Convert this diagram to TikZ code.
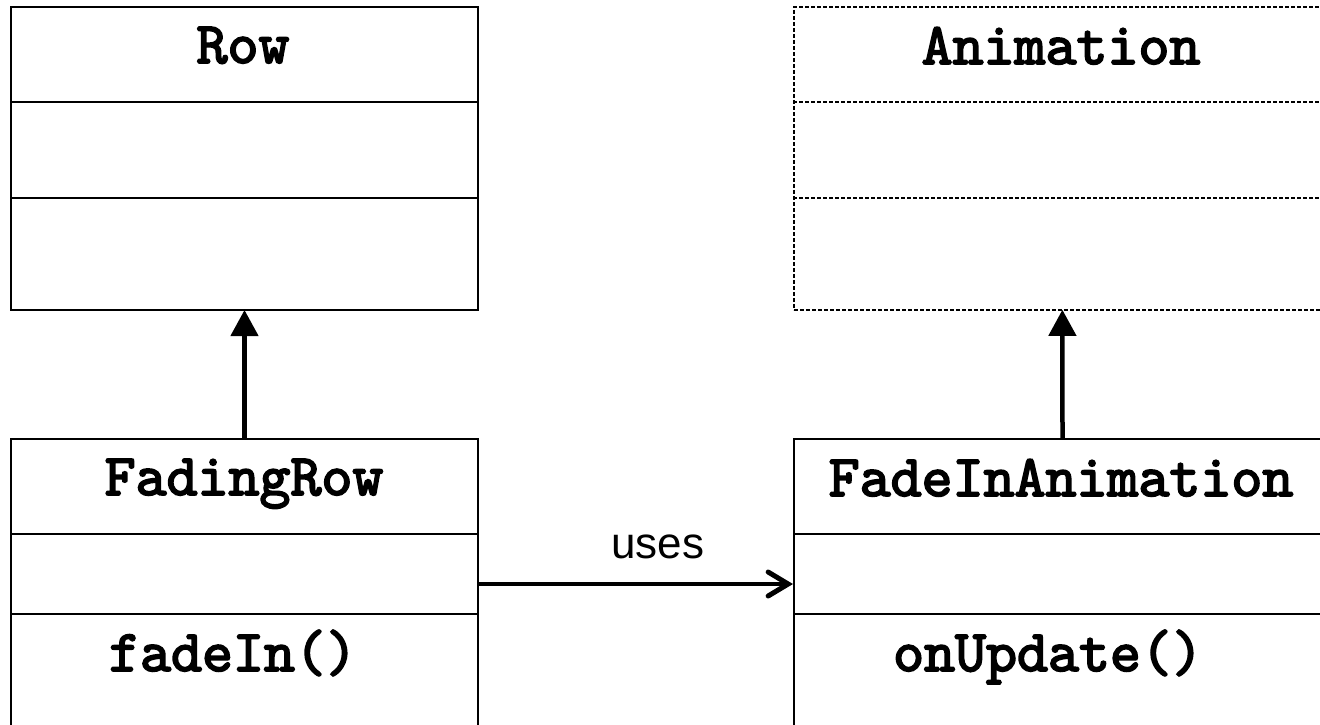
\documentclass[tikz,border=0pt]{standalone}
\usepackage{fontspec}
\setsansfont{Liberation Sans}
\newfontfamily\codefont{lmmono10-regular.otf}[FakeBold=3]
\usetikzlibrary{arrows.meta}
\tikzset{
  x=1pt, y=-1pt,
  classbox/.style={draw=black, line width=2pt, fill=white, inner sep=0pt, anchor=north west},
  abstractbox/.style={classbox, dash pattern=on 4pt off 2pt, line width=1.8pt},
  divider/.style={line width=2pt},
  dashdivider/.style={line width=1.8pt, dash pattern=on 4pt off 2pt},
  classname/.style={font=\fontsize{59}{66}\selectfont\codefont, inner sep=0pt, anchor=base},
  label/.style={font=\fontsize{44}{50}\selectfont\sffamily, inner sep=0pt, anchor=base},
  inherit/.style={line width=4.5pt, -{Triangle[width=27pt,length=26pt]}, shorten >=-1pt},
  uses/.style={line width=4pt, -{Straight Barb[length=20pt,width=24pt,line cap=round,line width=5pt]}},
}
\begin{document}
\begin{tikzpicture}
\useasboundingbox (0,0) rectangle (1320,725);
\clip (0,0) rectangle (1320,725);
% Row
\node[classbox, minimum width=467pt, minimum height=303pt] (row) at (10,6) {};
\draw[divider] (row.west |- 0,102) coordinate (rowd1l) -- (row.east |- 0,102) coordinate (rowd1r);
\draw[divider] (row.west |- 0,198) coordinate (rowd2l) -- (row.east |- 0,198) coordinate (rowd2r);
\node[classname] (rowname) at (243,63) {Row};
% Animation
\node[abstractbox, minimum width=537pt, minimum height=303pt] (anim) at (793,6) {};
\draw[dashdivider] (anim.west |- 0,102) coordinate (animd1l) -- (anim.east |- 0,102) coordinate (animd1r);
\draw[dashdivider] (anim.west |- 0,198) coordinate (animd2l) -- (anim.east |- 0,198) coordinate (animd2r);
\node[classname] (animname) at (1061,64) {Animation};
% FadingRow
\node[classbox, minimum width=467pt, minimum height=290pt] (frow) at (10,438) {};
\draw[divider] (frow.west |- 0,534) coordinate (frd1l) -- (frow.east |- 0,534) coordinate (frd1r);
\draw[divider] (frow.west |- 0,614) coordinate (frd2l) -- (frow.east |- 0,614) coordinate (frd2r);
\node[classname] (frowname) at (244,495) {FadingRow};
\node[classname] (frowop) at (233,671) {fadeIn()};
% FadeInAnimation
\node[classbox, minimum width=537pt, minimum height=290pt] (fanim) at (793,438) {};
\draw[divider] (fanim.west |- 0,534) coordinate (fad1l) -- (fanim.east |- 0,534) coordinate (fad1r);
\draw[divider] (fanim.west |- 0,614) coordinate (fad2l) -- (fanim.east |- 0,614) coordinate (fad2r);
\node[classname] (fanimname) at (1061,496) {FadeInAnimation};
\node[classname] (fanimop) at (1048,671) {onUpdate()};
% connectors
\draw[inherit] (frow.north) -- (row.south);
\draw[inherit] (fanim.north) -- (anim.south);
\draw[uses] (frow.east) -- (fanim.west);
\node[label] (useslbl) at (658,558) {uses};
\end{tikzpicture}
\end{document}
